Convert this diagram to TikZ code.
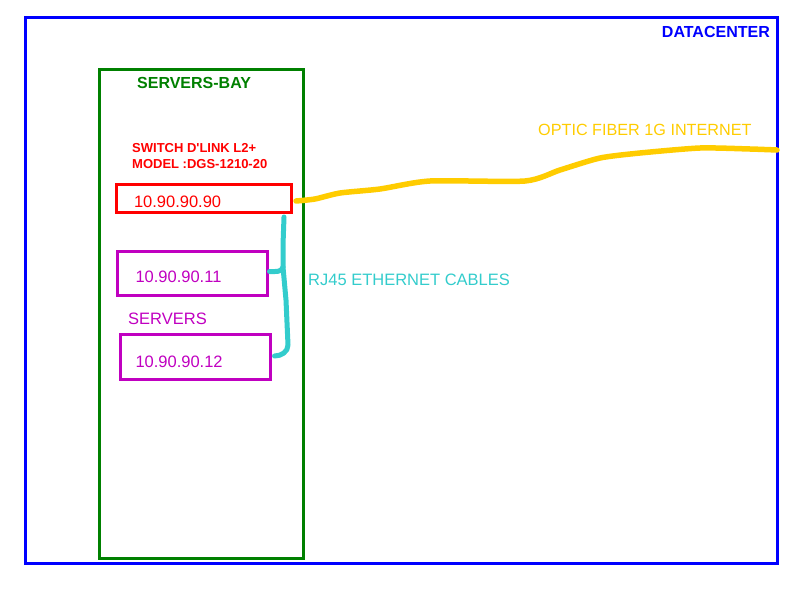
\documentclass[tikz,border=0pt]{standalone}
\usepackage{fontspec}
\setmainfont{Liberation Sans}
\usepackage{tikz}
\usetikzlibrary{shapes.geometric, arrows.meta, positioning}
\definecolor{dcblue}{RGB}{0,0,255}
\definecolor{baygreen}{RGB}{0,128,0}
\definecolor{srvpurple}{RGB}{192,0,192}
\definecolor{cablecyan}{RGB}{51,204,204}
\definecolor{fiberyellow}{RGB}{255,204,0}

\begin{document}
\begin{tikzpicture}[x=1pt,y=-1pt]
		\tikzstyle{txt} = [inner sep=0pt, anchor=base west, font=\fontsize{16.5}{19}\selectfont]
		\tikzstyle{ipbox} = [draw, line width=3pt, outer sep=0pt, anchor=north west, inner xsep=18pt, inner ysep=2pt, text height=18pt, text depth=0pt, align=left, font=\fontsize{16.5}{19}\selectfont]
		\tikzstyle{cable} = [draw=cablecyan, line width=5pt, line cap=round, line join=round]
		\tikzstyle{fiber} = [draw=fiberyellow, line width=5.5pt, line cap=round, line join=round]
		\useasboundingbox (0,0) rectangle (800,600);

		% Datacenter y bahia de servidores
		\draw[dcblue, line width=3pt] (25.5,17.5) rectangle (777.5,563.5);
		\node[txt, anchor=base east, text=dcblue, font=\bfseries\fontsize{16}{19}\selectfont] (dc) at (770,37) {DATACENTER};
		\draw[baygreen, line width=3pt] (99.5,69.5) rectangle (303.5,558.5);
		\node[txt, text=baygreen, font=\bfseries\fontsize{16}{19}\selectfont] (bay) at (137,88) {SERVERS-BAY};

		% Switch
		\node[txt, text=red, align=left, font=\bfseries\fontsize{13}{16}\selectfont] (swlbl) at (132,168) {SWITCH D\textquotesingle LINK L2+\\MODEL :DGS-1210-20};
		\node[ipbox, draw=red, text=red, text width=139pt, minimum height=28pt] (sw) at (116,184) {10.90.90.90};

		% Servidores
		\node[ipbox, draw=srvpurple, text=srvpurple, text width=114pt, minimum height=44pt] (s11) at (117.5,251.5) {10.90.90.11};
		\node[txt, text=srvpurple] (srv) at (128,324) {SERVERS};
		\node[ipbox, draw=srvpurple, text=srvpurple, inner xsep=15pt, text height=21pt, text width=120pt, minimum height=45pt] (s12) at (120.5,334.5) {10.90.90.12};

		% Cables RJ45
		\coordinate (brace) at (283,267);
		\path[cable] ([xshift=-7pt,yshift=-5pt]sw.south east) -- (283,245) -- (brace) to[out=-100,in=0] ([xshift=2pt,yshift=2pt]s11.east);
		\path[cable] (brace) -- (286,300) -- (288,345) to[out=-90,in=0] ([xshift=4pt,yshift=1pt]s12.east);
		\node[txt, text=cablecyan] (rj) at (308,285) {RJ45 ETHERNET CABLES};

		% Fibra optica
		\coordinate (inet) at (777,150);
		\path[fiber] plot[smooth, tension=0.4] coordinates {([xshift=5pt,yshift=-3pt]sw.east) (315,199) (340,193) (380,189) (430,181) (525,181) (560,170) (600,158) (640,153) (700,148) (750,149) (inet)};
		\node[txt, text=fiberyellow, font=\fontsize{16.2}{19}\selectfont] (fib) at (538,135) {OPTIC FIBER 1G INTERNET};
	\end{tikzpicture}
\end{document}
